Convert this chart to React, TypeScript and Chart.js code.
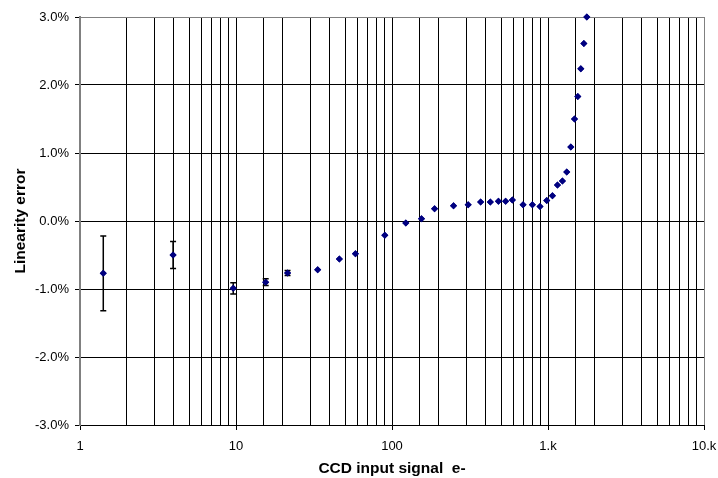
import React, { useEffect, useRef } from "react";
import { Chart, registerables } from "chart.js";

Chart.register(...registerables);

const signal = [1.41, 3.95, 9.6, 15.5, 21.4, 33.4, 46, 58.3, 89.9, 122.6, 154.6, 187.5, 248, 308, 370, 427, 481, 535, 591, 692, 794, 889, 982, 1068, 1150, 1238, 1319, 1400, 1479, 1553, 1623, 1698, 1774];
const linearityError = [-0.77, -0.5, -0.99, -0.9, -0.765, -0.716, -0.56, -0.48, -0.21, -0.03, 0.034, 0.18, 0.225, 0.24, 0.28, 0.28, 0.29, 0.29, 0.31, 0.24, 0.24, 0.215, 0.3, 0.37, 0.53, 0.59, 0.72, 1.09, 1.5, 1.83, 2.24, 2.61, 3.0];
const errorBar = [0.55, 0.2, 0.083, 0.05, 0.037, 0, 0, 0, 0, 0, 0, 0, 0, 0, 0, 0, 0, 0, 0, 0, 0, 0, 0, 0, 0, 0, 0, 0, 0, 0, 0, 0, 0];
const xTickLabels: Record<number, string> = { 1: "1", 10: "10", 100: "100", 1000: "1.k", 10000: "10.k" };
const yMin = -3;
const yMax = 3;

const FONT = "'Liberation Sans', Arial, sans-serif";

const isMajor = (v: number) => Math.abs(Math.log10(v) - Math.round(Math.log10(v))) < 1e-9;

const errorBarPlugin = {
  id: "errorBars",
  afterDatasetsDraw(chart: any) {
    const ctx = chart.ctx;
    const xs = chart.scales.x;
    const ys = chart.scales.y;
    ctx.save();
    ctx.strokeStyle = "#000";
    ctx.lineWidth = 1.5;
    signal.forEach((sx, i) => {
      const e = errorBar[i];
      if (!e) return;
      const px = xs.getPixelForValue(sx);
      const top = ys.getPixelForValue(linearityError[i] + e);
      const bot = ys.getPixelForValue(linearityError[i] - e);
      ctx.beginPath();
      ctx.moveTo(px, top);
      ctx.lineTo(px, bot);
      ctx.moveTo(px - 3, top);
      ctx.lineTo(px + 3, top);
      ctx.moveTo(px - 3, bot);
      ctx.lineTo(px + 3, bot);
      ctx.stroke();
    });
    const meta = chart.getDatasetMeta(0);
    meta.data.forEach((el: any) => el.draw(ctx, undefined));
    ctx.restore();
  },
};

export default function App() {
  const ref = useRef<HTMLCanvasElement>(null);
  useEffect(() => {
    if (!ref.current) return;
    const chart = new Chart(ref.current, {
      type: "scatter",
      data: {
        datasets: [
          {
            data: signal.map((x, i) => ({ x, y: linearityError[i] })),
            pointStyle: "rectRot",
            pointRadius: 3.5,
            pointBackgroundColor: "#000080",
            pointBorderColor: "#000080",
            pointBorderWidth: 0,
            clip: false as any,
          },
        ],
      },
      options: {
        responsive: false,
        animation: false,
        events: [],
        layout: { padding: { top: 17, right: 14, left: 0, bottom: 0 } },
        plugins: { legend: { display: false }, tooltip: { enabled: false } },
        scales: {
          x: {
            type: "logarithmic",
            min: 1,
            max: 10000,
            afterFit: (s: any) => {
              s.height = 53;
              s.paddingLeft = 0;
              s.paddingRight = 0;
            },
            border: { color: "#000", width: 1 },
            grid: {
              color: (c: any) => (c.tick && c.tick.value === 10000 ? "#808080" : "#000"),
              lineWidth: 1,
              drawTicks: true,
              tickLength: 5,
              tickColor: (c: any) => (c.tick && isMajor(c.tick.value) ? "#000" : "rgba(0,0,0,0)"),
            },
            ticks: {
              autoSkip: false,
              maxRotation: 0,
              padding: 9,
              color: "#000",
              font: { family: FONT, size: 13 },
              callback: (v: any) => {
                const n = Number(v);
                return isMajor(n) ? xTickLabels[Math.round(n)] ?? "" : "";
              },
            },
            title: {
              display: true,
              text: "CCD input signal  e-",
              color: "#000",
              font: { family: FONT, size: 15.5, weight: "bold" },
              padding: { top: -3, bottom: 0 },
            },
          },
          y: {
            type: "linear",
            min: yMin,
            max: yMax,
            afterFit: (s: any) => {
              s.width = 80;
              s.paddingTop = 0;
              s.paddingBottom = 0;
            },
            border: { color: "#808080", width: 2 },
            grid: {
              color: (c: any) => (c.tick && c.tick.value === yMax ? "#808080" : "#000"),
              lineWidth: 1,
              tickLength: 5,
              tickColor: "#000",
            },
            ticks: {
              stepSize: 1,
              padding: 6,
              color: "#000",
              font: { family: FONT, size: 13 },
              callback: (v: any) => Number(v).toFixed(1) + "%",
            },
            title: {
              display: true,
              text: "Linearity error",
              color: "#000",
              font: { family: FONT, size: 15.5, weight: "bold" },
              padding: { top: 11, bottom: 0 },
            },
          },
        },
      },
      plugins: [errorBarPlugin],
    });
    return () => chart.destroy();
  }, []);
  return (
    <canvas
      ref={ref}
      width={718}
      height={478}
      style={{ position: "absolute", left: 0, top: 0, width: 718, height: 478, display: "block", background: "#fff" }}
    />
  );
}
